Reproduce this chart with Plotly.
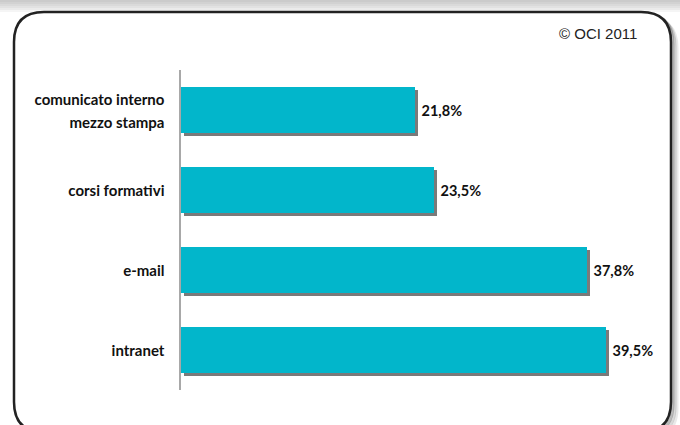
import plotly.graph_objects as go

# ---- data ----
categories = ["comunicato interno<br>mezzo stampa", "corsi formativi", "e-mail", "intranet"]
values = [21.8, 23.5, 37.8, 39.5]
credit = "© OCI 2011"

W, H = 680, 425
BAR_COLOR = "#02B6CB"
SHADOW_COLOR = "#7a7a7a"

# pixel helpers
def px(x):
    return x / W

def py(y):
    return 1 - y / H

X_UNIT = 10.75  # px per percent
X_MAX = 44
plot_left, plot_right = 181, 181 + X_MAX * X_UNIT
plot_top, plot_bottom = 70, 390
cat_px = (plot_bottom - plot_top) / len(categories)
bar_w = 46 / cat_px

# tick labels: glyphs at 15px, line spacing from a larger base font
tick_text = ["<br>".join(f"<span style='font-size:15px'>{part}</span>"
                         for part in c.split("<br>")) for c in categories]

fig = go.Figure()

# shadow bars (shifted 3px right & down)
fig.add_trace(go.Bar(
    y=categories, x=values, orientation="h",
    base=[3 / X_UNIT] * len(values),
    width=bar_w, offset=-bar_w / 2 + 3 / cat_px,
    marker=dict(color=SHADOW_COLOR, line=dict(width=0)),
    hoverinfo="skip", showlegend=False,
))
# main bars
fig.add_trace(go.Bar(
    y=categories, x=values, orientation="h",
    width=bar_w,
    marker=dict(color=BAR_COLOR, line=dict(width=0)),
    text=values, texttemplate=" %{x:.1f}%", textposition="outside",
    textfont=dict(family="Lato", size=14.5, color="#111111", weight="bold"),
    cliponaxis=False, showlegend=False,
))

# ---- frame shapes ----
def rounded_path(x0, y0, x1, y1, r):
    rx, ry = r / W, r / H
    X0, X1 = px(x0), px(x1)
    Yt, Yb = py(y0), py(y1)
    return (f"M {X0+rx},{Yt} L {X1-rx},{Yt} Q {X1},{Yt} {X1},{Yt-ry} "
            f"L {X1},{Yb+ry} Q {X1},{Yb} {X1-rx},{Yb} "
            f"L {X0+rx},{Yb} Q {X0},{Yb} {X0},{Yb+ry} "
            f"L {X0},{Yt-ry} Q {X0},{Yt} {X0+rx},{Yt} Z")

shapes = []
# top gray shadow band (fading gradient)
for h in [2, 4, 6, 8, 10, 12]:
    shapes.append(dict(type="rect", xref="paper", yref="paper", x0=0, x1=1,
                       y0=py(h), y1=1, fillcolor="#777777", opacity=0.07,
                       line=dict(width=0), layer="below"))
# frame shadow
for off, op in [(6, 0.12), (4, 0.22), (2, 0.4)]:
    shapes.append(dict(type="path", xref="paper", yref="paper",
                       path=rounded_path(14 + off, 12 + off, 671 + off, 432 + off, 30),
                       line=dict(color="#555555", width=3), opacity=op, layer="below"))
# frame
shapes.append(dict(type="path", xref="paper", yref="paper",
                   path=rounded_path(14, 12, 671, 432, 30),
                   fillcolor="white",
                   line=dict(color="#222222", width=2.5), layer="below"))

fig.update_layout(
    width=W, height=H,
    margin=dict(l=0, r=0, t=0, b=0),
    paper_bgcolor="white", plot_bgcolor="rgba(0,0,0,0)",
    barmode="overlay", bargap=0,
    separators=",.",
    shapes=shapes,
    xaxis=dict(domain=[px(plot_left), px(plot_right)], range=[0, X_MAX],
               showgrid=False, zeroline=False, showticklabels=False,
               showline=False, fixedrange=True),
    yaxis=dict(domain=[py(plot_bottom), py(plot_top)], type="category",
               autorange="reversed", showgrid=False, zeroline=False,
               showline=True, linecolor="#a8a8a8", linewidth=2,
               ticks="", ticklabelstandoff=11,
               tickmode="array", tickvals=categories, ticktext=tick_text,
               tickfont=dict(family="Lato", size=17.7, color="#111111", weight="bold"),
               fixedrange=True),
    annotations=[dict(text=credit, xref="paper", yref="paper",
                      x=px(639), y=py(34), xanchor="right", yanchor="middle",
                      showarrow=False,
                      font=dict(family="Liberation Sans", size=15, color="#222222"))],
)

fig.write_html("out.html", config={"displayModeBar": False},
               post_script="document.body.style.margin='0';document.body.style.padding='0';")
